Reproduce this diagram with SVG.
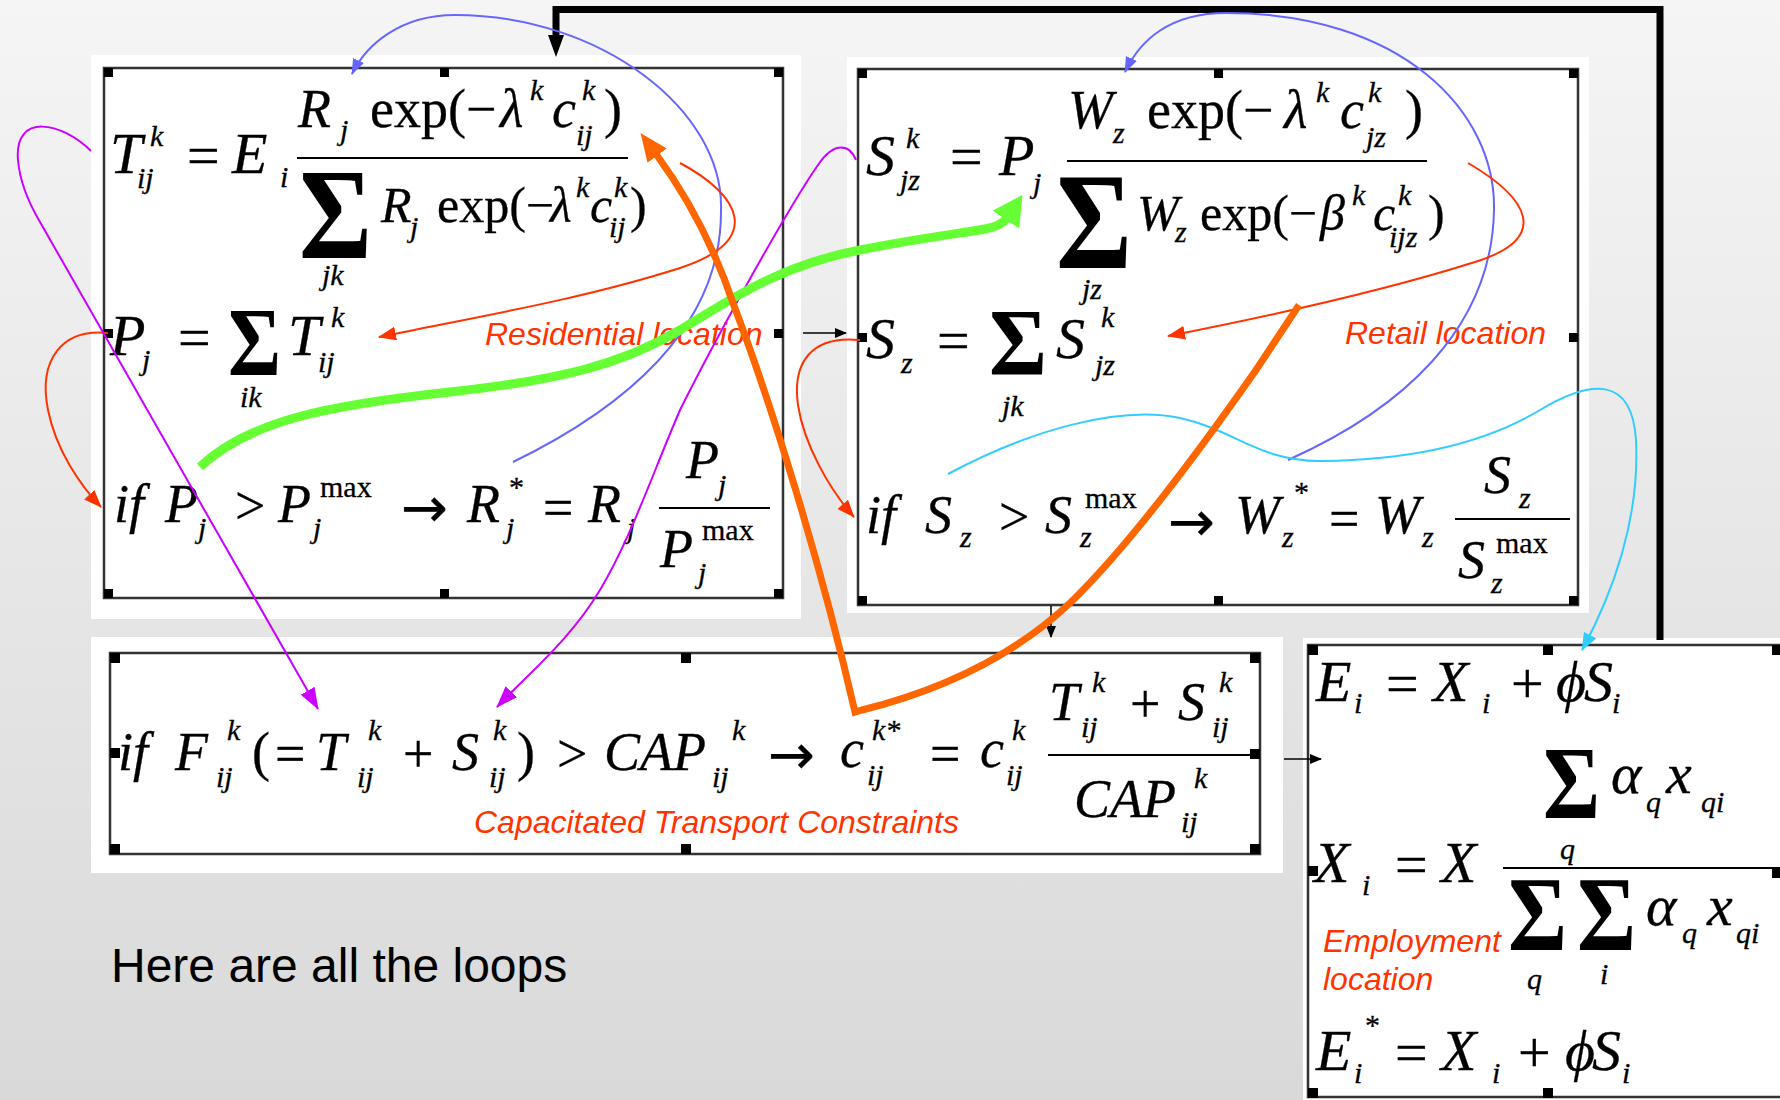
<svg xmlns="http://www.w3.org/2000/svg" width="1780" height="1100" viewBox="0 0 1780 1100">
<defs>
<linearGradient id="bg" x1="0" y1="0" x2="0" y2="1">
<stop offset="0" stop-color="#f5f5f5"/>
<stop offset="1" stop-color="#d9d9d9"/>
</linearGradient>
<marker id="aBlue" markerUnits="userSpaceOnUse" markerWidth="16" markerHeight="12" refX="15" refY="6" orient="auto"><path d="M0,0 L16,6 L0,12 z" fill="#6666ff"/></marker>
<marker id="aRed" markerUnits="userSpaceOnUse" markerWidth="18" markerHeight="14" refX="17" refY="7" orient="auto"><path d="M0,0 L18,7 L0,14 z" fill="#ff3300"/></marker>
<marker id="aMag" markerUnits="userSpaceOnUse" markerWidth="22" markerHeight="16" refX="21" refY="8" orient="auto"><path d="M0,0 L22,8 L0,16 z" fill="#cc00ff"/></marker>
<marker id="aCyan" markerUnits="userSpaceOnUse" markerWidth="18" markerHeight="14" refX="17" refY="7" orient="auto"><path d="M0,0 L18,7 L0,14 z" fill="#33ccff"/></marker>
<marker id="aGreen" markerUnits="userSpaceOnUse" markerWidth="30" markerHeight="32" refX="2" refY="16" orient="auto"><path d="M0,0 L30,16 L0,32 z" fill="#66ff33"/></marker>
<marker id="aOrange" markerUnits="userSpaceOnUse" markerWidth="28" markerHeight="24" refX="2" refY="12" orient="auto"><path d="M0,0 L28,12 L0,24 z" fill="#ff6600"/></marker>
<marker id="aBlack" markerUnits="userSpaceOnUse" markerWidth="12" markerHeight="10" refX="11" refY="5" orient="auto"><path d="M0,0 L12,5 L0,10 z" fill="#000"/></marker>
<marker id="aBlackBig" markerUnits="userSpaceOnUse" markerWidth="22" markerHeight="16" refX="1" refY="8" orient="auto"><path d="M0,0 L22,8 L0,16 z" fill="#000"/></marker>
</defs>
<style>
.panel{fill:#fff}
.frame{fill:none;stroke:#333;stroke-width:2.5}
.h{fill:#000}
.m{font-family:"Liberation Serif","Times New Roman",serif;fill:#000;stroke:#000;stroke-width:0.3}
.v{font-style:italic}
.L{font-size:58px}
.M{font-size:54px}
.D{font-size:50px}
.s{font-size:30px}
.ar{font-family:"DejaVu Sans",sans-serif;font-size:56px;font-style:normal}
.sg{font-family:"Liberation Serif","Times New Roman",serif;font-weight:bold;fill:#000}
.fl{stroke:#000;stroke-width:2.2}
.lab{font-family:"Liberation Sans",Arial,sans-serif;font-style:italic;font-size:32px;fill:#ff3300}
.c{fill:none}
</style>
<rect width="1780" height="1100" fill="url(#bg)"/>

<g id="residential">
<rect class="panel" x="91" y="55" width="710" height="564"/>
<rect class="frame" x="104" y="68" width="679" height="530"/>
<rect class="h" x="104" y="68" width="9" height="9"/><rect class="h" x="440" y="68" width="9" height="9"/><rect class="h" x="774" y="68" width="9" height="9"/>
<rect class="h" x="104" y="329" width="9" height="9"/><rect class="h" x="774" y="329" width="9" height="9"/>
<rect class="h" x="104" y="589" width="9" height="9"/><rect class="h" x="440" y="589" width="9" height="9"/><rect class="h" x="774" y="589" width="9" height="9"/>
<text class="m">
<tspan class="v L" x="110" y="173">T</tspan><tspan class="v s" x="150" y="146">k</tspan><tspan class="v s" x="137" y="188">ij</tspan>
<tspan class="L" x="187" y="175">=</tspan>
<tspan class="v L" x="232" y="173">E</tspan><tspan class="v s" x="280" y="187">i</tspan>
<tspan class="v M" x="298" y="127">R</tspan><tspan class="v s" x="340" y="140">j</tspan>
<tspan class="M" x="370" y="127">exp(−</tspan>
<tspan class="v M" x="500" y="127">λ</tspan><tspan class="v s" x="530" y="100">k</tspan>
<tspan class="v M" x="552" y="127">c</tspan><tspan class="v s" x="582" y="100">k</tspan><tspan class="v s" x="576" y="145">ij</tspan>
<tspan class="M" x="604" y="127">)</tspan>
<tspan class="v s" x="322" y="285">jk</tspan>
<tspan class="v D" x="381" y="222">R</tspan><tspan class="v s" x="410" y="237">j</tspan>
<tspan class="D" x="437" y="222">exp(−</tspan>
<tspan class="v D" x="550" y="222">λ</tspan><tspan class="v s" x="576" y="197">k</tspan>
<tspan class="v D" x="590" y="222">c</tspan><tspan class="v s" x="614" y="197">k</tspan><tspan class="v s" x="609" y="237">ij</tspan>
<tspan class="D" x="630" y="222">)</tspan>
</text>
<line class="fl" x1="297" y1="158" x2="628" y2="158"/>
<text class="sg" x="299" y="258" font-size="130" textLength="73" lengthAdjust="spacingAndGlyphs">Σ</text>

<text class="m">
<tspan class="v L" x="110" y="355">P</tspan><tspan class="v s" x="142" y="370">j</tspan>
<tspan class="L" x="178" y="357">=</tspan>
<tspan class="v s" x="240" y="407">ik</tspan>
<tspan class="v L" x="288" y="355">T</tspan><tspan class="v s" x="331" y="327">k</tspan><tspan class="v s" x="318" y="372">ij</tspan>
</text>
<text class="sg" x="228" y="375" font-size="98" textLength="53" lengthAdjust="spacingAndGlyphs">Σ</text>

<text class="m">
<tspan class="v M" x="114" y="522">if</tspan>
<tspan class="v M" x="165" y="522">P</tspan><tspan class="v s" x="198" y="538">j</tspan>
<tspan class="M" x="235" y="524">&gt;</tspan>
<tspan class="v M" x="278" y="522">P</tspan><tspan class="s" x="320" y="497">max</tspan><tspan class="v s" x="313" y="538">j</tspan>
<tspan class="ar" x="401" y="527">→</tspan>
<tspan class="v M" x="467" y="522">R</tspan><tspan class="s" x="509" y="497">*</tspan><tspan class="v s" x="506" y="538">j</tspan>
<tspan class="M" x="543" y="526">=</tspan>
<tspan class="v M" x="588" y="522">R</tspan><tspan class="v s" x="627" y="538">j</tspan>
<tspan class="v M" x="686" y="478">P</tspan><tspan class="v s" x="718" y="495">j</tspan>
<tspan class="v M" x="660" y="567">P</tspan><tspan class="s" x="702" y="540">max</tspan><tspan class="v s" x="698" y="583">j</tspan>
</text>
<line class="fl" x1="659" y1="508" x2="770" y2="508"/>
<text class="lab" x="485" y="345">Residential location</text>
</g>

<g id="retail">
<rect class="panel" x="847" y="57" width="742" height="556"/>
<rect class="frame" x="858" y="69" width="720" height="536"/>
<rect class="h" x="858" y="69" width="9" height="9"/><rect class="h" x="1214" y="69" width="9" height="9"/><rect class="h" x="1569" y="69" width="9" height="9"/>
<rect class="h" x="858" y="333" width="9" height="9"/><rect class="h" x="1569" y="333" width="9" height="9"/>
<rect class="h" x="858" y="596" width="9" height="9"/><rect class="h" x="1214" y="596" width="9" height="9"/><rect class="h" x="1569" y="596" width="9" height="9"/>
<text class="m">
<tspan class="v L" x="866" y="175">S</tspan><tspan class="v s" x="906" y="148">k</tspan><tspan class="v s" x="900" y="190">jz</tspan>
<tspan class="L" x="950" y="176">=</tspan>
<tspan class="v L" x="999" y="175">P</tspan><tspan class="v s" x="1033" y="193">j</tspan>
<tspan class="v M" x="1068" y="128">W</tspan><tspan class="v s" x="1113" y="143">z</tspan>
<tspan class="M" x="1147" y="128">exp(−</tspan>
<tspan class="v M" x="1284" y="128">λ</tspan><tspan class="v s" x="1316" y="102">k</tspan>
<tspan class="v M" x="1340" y="128">c</tspan><tspan class="v s" x="1368" y="102">k</tspan><tspan class="v s" x="1366" y="147">jz</tspan>
<tspan class="M" x="1405" y="128">)</tspan>
<tspan class="v s" x="1082" y="299">jz</tspan>
<tspan class="v D" x="1137" y="230">W</tspan><tspan class="v s" x="1175" y="242">z</tspan>
<tspan class="D" x="1200" y="230">exp(−</tspan>
<tspan class="v D" x="1320" y="230">β</tspan><tspan class="v s" x="1352" y="205">k</tspan>
<tspan class="v D" x="1373" y="230">c</tspan><tspan class="v s" x="1398" y="205">k</tspan><tspan class="v s" x="1389" y="247">ijz</tspan>
<tspan class="D" x="1428" y="230">)</tspan>
</text>
<line class="fl" x1="1067" y1="161" x2="1427" y2="161"/>
<text class="sg" x="1056" y="268" font-size="137" textLength="76" lengthAdjust="spacingAndGlyphs">Σ</text>

<text class="m">
<tspan class="v L" x="866" y="358">S</tspan><tspan class="v s" x="901" y="373">z</tspan>
<tspan class="L" x="937" y="360">=</tspan>
<tspan class="v s" x="1002" y="416">jk</tspan>
<tspan class="v L" x="1056" y="358">S</tspan><tspan class="v s" x="1101" y="327">k</tspan><tspan class="v s" x="1095" y="375">jz</tspan>
</text>
<text class="sg" x="989" y="375" font-size="95" textLength="58" lengthAdjust="spacingAndGlyphs">Σ</text>

<text class="m">
<tspan class="v M" x="866" y="533">if</tspan>
<tspan class="v M" x="925" y="533">S</tspan><tspan class="v s" x="960" y="547">z</tspan>
<tspan class="M" x="999" y="535">&gt;</tspan>
<tspan class="v M" x="1045" y="533">S</tspan><tspan class="s" x="1085" y="508">max</tspan><tspan class="v s" x="1080" y="547">z</tspan>
<tspan class="ar" x="1168" y="541">→</tspan>
<tspan class="v M" x="1235" y="533">W</tspan><tspan class="s" x="1294" y="502">*</tspan><tspan class="v s" x="1282" y="547">z</tspan>
<tspan class="M" x="1329" y="537">=</tspan>
<tspan class="v M" x="1375" y="533">W</tspan><tspan class="v s" x="1422" y="547">z</tspan>
<tspan class="v M" x="1484" y="493">S</tspan><tspan class="v s" x="1519" y="508">z</tspan>
<tspan class="v M" x="1458" y="578">S</tspan><tspan class="s" x="1496" y="553">max</tspan><tspan class="v s" x="1491" y="593">z</tspan>
</text>
<line class="fl" x1="1455" y1="519" x2="1570" y2="519"/>
<text class="lab" x="1345" y="344">Retail location</text>
</g>

<g id="transport">
<rect class="panel" x="91" y="637" width="1192" height="236"/>
<rect class="frame" x="110" y="653" width="1150" height="201"/>
<rect class="h" x="110" y="653" width="10" height="10"/><rect class="h" x="681" y="653" width="10" height="10"/><rect class="h" x="1250" y="653" width="10" height="10"/>
<rect class="h" x="110" y="748" width="10" height="10"/><rect class="h" x="1250" y="749" width="10" height="10"/>
<rect class="h" x="110" y="844" width="10" height="10"/><rect class="h" x="681" y="844" width="10" height="10"/><rect class="h" x="1250" y="844" width="10" height="10"/>
<text class="m">
<tspan class="v M" x="118" y="770">if</tspan>
<tspan class="v M" x="175" y="770">F</tspan><tspan class="v s" x="227" y="740">k</tspan><tspan class="v s" x="216" y="787">ij</tspan>
<tspan class="M" x="252" y="770">(</tspan><tspan class="M" x="275" y="772">=</tspan>
<tspan class="v M" x="316" y="770">T</tspan><tspan class="v s" x="368" y="740">k</tspan><tspan class="v s" x="357" y="787">ij</tspan>
<tspan class="M" x="403" y="772">+</tspan>
<tspan class="v M" x="452" y="770">S</tspan><tspan class="v s" x="493" y="740">k</tspan><tspan class="v s" x="489" y="787">ij</tspan>
<tspan class="M" x="517" y="770">)</tspan>
<tspan class="M" x="557" y="772">&gt;</tspan>
<tspan class="v M" x="604" y="770">CAP</tspan><tspan class="v s" x="732" y="740">k</tspan><tspan class="v s" x="712" y="787">ij</tspan>
<tspan class="ar" x="768" y="774">→</tspan>
<tspan class="v M" x="840" y="767">c</tspan><tspan class="v s" x="872" y="740">k*</tspan><tspan class="v s" x="867" y="785">ij</tspan>
<tspan class="M" x="930" y="772">=</tspan>
<tspan class="v M" x="980" y="767">c</tspan><tspan class="v s" x="1012" y="740">k</tspan><tspan class="v s" x="1006" y="785">ij</tspan>
<tspan class="v M" x="1049" y="720">T</tspan><tspan class="v s" x="1092" y="692">k</tspan><tspan class="v s" x="1081" y="737">ij</tspan>
<tspan class="M" x="1130" y="722">+</tspan>
<tspan class="v M" x="1178" y="720">S</tspan><tspan class="v s" x="1219" y="692">k</tspan><tspan class="v s" x="1212" y="737">ij</tspan>
<tspan class="v M" x="1074" y="817">CAP</tspan><tspan class="v s" x="1194" y="788">k</tspan><tspan class="v s" x="1181" y="832">ij</tspan>
</text>
<line class="fl" x1="1048" y1="755" x2="1253" y2="755"/>
<text class="lab" x="474" y="833">Capacitated Transport Constraints</text>
</g>

<g id="employment">
<rect class="panel" x="1303" y="638" width="480" height="465"/>
<rect class="frame" x="1308" y="645" width="480" height="452"/>
<rect class="h" x="1308" y="645" width="10" height="10"/><rect class="h" x="1543" y="645" width="10" height="10"/><rect class="h" x="1772" y="645" width="10" height="10"/>
<rect class="h" x="1308" y="866" width="10" height="10"/><rect class="h" x="1772" y="868" width="10" height="10"/>
<rect class="h" x="1308" y="1088" width="10" height="10"/><rect class="h" x="1543" y="1088" width="10" height="10"/>
<text class="m">
<tspan class="v L" x="1316" y="701">E</tspan><tspan class="v s" x="1354" y="713">i</tspan>
<tspan class="L" x="1386" y="703">=</tspan>
<tspan class="v L" x="1433" y="701">X</tspan><tspan class="v s" x="1482" y="713">i</tspan>
<tspan class="L" x="1511" y="703">+</tspan>
<tspan class="v L" x="1556" y="701">ϕ</tspan><tspan class="v L" x="1584" y="701">S</tspan><tspan class="v s" x="1612" y="713">i</tspan>
<tspan class="v L" x="1314" y="882">X</tspan><tspan class="v s" x="1362" y="895">i</tspan>
<tspan class="L" x="1395" y="884">=</tspan>
<tspan class="v L" x="1441" y="882">X</tspan>
<tspan class="v s" x="1560" y="859">q</tspan>
<tspan class="v L" x="1611" y="793">α</tspan><tspan class="v s" x="1646" y="812">q</tspan>
<tspan class="v L" x="1666" y="793">x</tspan><tspan class="v s" x="1701" y="812">qi</tspan>
<tspan class="v s" x="1527" y="989">q</tspan><tspan class="v s" x="1600" y="984">i</tspan>
<tspan class="v L" x="1646" y="925">α</tspan><tspan class="v s" x="1682" y="943">q</tspan>
<tspan class="v L" x="1707" y="925">x</tspan><tspan class="v s" x="1736" y="943">qi</tspan>
<tspan class="v L" x="1316" y="1070">E</tspan><tspan class="s" x="1365" y="1035">*</tspan><tspan class="v s" x="1354" y="1083">i</tspan>
<tspan class="L" x="1395" y="1072">=</tspan>
<tspan class="v L" x="1441" y="1070">X</tspan><tspan class="v s" x="1492" y="1083">i</tspan>
<tspan class="L" x="1518" y="1072">+</tspan>
<tspan class="v L" x="1565" y="1070">ϕ</tspan><tspan class="v L" x="1592" y="1070">S</tspan><tspan class="v s" x="1622" y="1083">i</tspan>
</text>
<line class="fl" x1="1503" y1="868" x2="1782" y2="868"/>
<text class="sg" x="1543" y="818" font-size="103" textLength="57" lengthAdjust="spacingAndGlyphs">Σ</text>
<text class="sg" x="1508" y="950" font-size="106" textLength="59" lengthAdjust="spacingAndGlyphs">Σ</text>
<text class="sg" x="1577" y="950" font-size="106" textLength="59" lengthAdjust="spacingAndGlyphs">Σ</text>
<text class="lab"><tspan x="1323" y="952">Employment</tspan><tspan x="1323" y="990">location</tspan></text>
</g>

<text id="caption" x="111" y="982" font-family="Liberation Sans, Arial, sans-serif" font-size="48" fill="#000">Here are all the loops</text>

<g id="connectors">
<path class="c" d="M1660,640 L1660,9.5 L556,9.5 L556,36" stroke="#000" stroke-width="7" marker-end="url(#aBlackBig)"/>
<path class="c" d="M803,333 L846,333" stroke="#000" stroke-width="1.5" marker-end="url(#aBlack)"/>
<path class="c" d="M1051,606 L1051,637" stroke="#000" stroke-width="1.5" marker-end="url(#aBlack)"/>
<path class="c" d="M1284,759 L1321,759" stroke="#000" stroke-width="1.5" marker-end="url(#aBlack)"/>
<path class="c" d="M513,462 C620,410 722,330 721,210 C724,110 600,15 455,15 C400,15 366,45 352,74" stroke="#6666ff" stroke-width="2" marker-end="url(#aBlue)"/>
<path class="c" d="M1288,460 C1400,410 1492,330 1494,210 C1496,110 1400,13 1226,13 C1170,13 1140,40 1125,72" stroke="#6666ff" stroke-width="2" marker-end="url(#aBlue)"/>
<path class="c" d="M680,163 C740,195 765,240 680,268 C580,300 470,318 379,337" stroke="#ff3300" stroke-width="2" marker-end="url(#aRed)"/>
<path class="c" d="M1468,163 C1528,198 1552,238 1475,262 C1380,292 1270,316 1168,336" stroke="#ff3300" stroke-width="2" marker-end="url(#aRed)"/>
<path class="c" d="M108,333 C62,328 38,360 48,410 C56,450 80,485 101,507" stroke="#ff3300" stroke-width="2" marker-end="url(#aRed)"/>
<path class="c" d="M860,340 C812,335 792,362 798,405 C804,445 830,490 854,517" stroke="#ff3300" stroke-width="2" marker-end="url(#aRed)"/>
<path class="c" d="M91,151 C62,122 14,112 18,160 C20,185 30,205 40,222 L318,709" stroke="#cc00ff" stroke-width="2" marker-end="url(#aMag)"/>
<path class="c" d="M856,160 C850,145 835,140 818,165 C790,205 720,330 680,410 C650,480 630,540 600,590 C570,640 530,672 497,707" stroke="#cc00ff" stroke-width="2" marker-end="url(#aMag)"/>
<path class="c" d="M948,474 C1030,430 1120,405 1180,418 C1235,430 1260,462 1322,461 C1420,460 1490,440 1540,410 C1590,380 1632,375 1636,440 C1640,520 1612,595 1582,650" stroke="#33ccff" stroke-width="2" marker-end="url(#aCyan)"/>
<path class="c" d="M200,467 C250,420 330,405 450,392 C560,380 620,365 680,330 C730,300 780,265 860,250 C920,238 970,232 985,229 C996,227 1003,224 1007,218" stroke="#66ff33" stroke-width="9" marker-end="url(#aGreen)"/>
<path class="c" d="M1299,305 L1256,370 C1200,450 1130,545 1070,603 C1020,650 950,688 862,710 L855,712 C820,560 770,400 733,303 C715,250 690,200 656,154" stroke="#ff6600" stroke-width="7" stroke-linejoin="miter" marker-end="url(#aOrange)"/>
</g>
</svg>
